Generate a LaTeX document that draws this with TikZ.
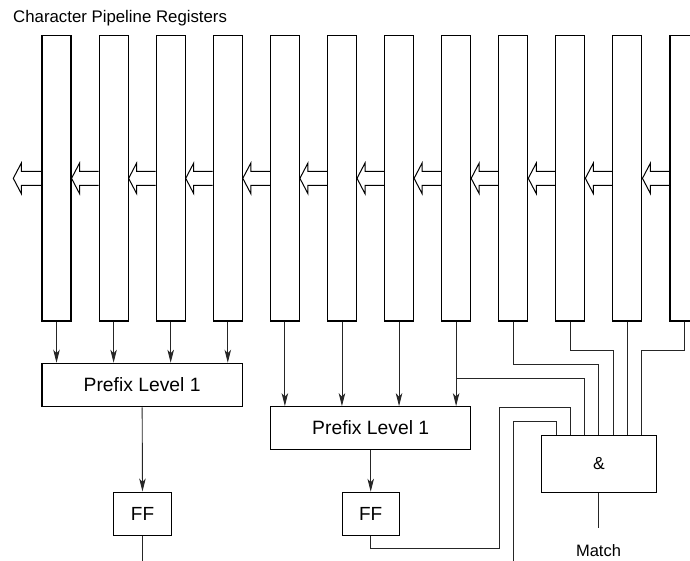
\documentclass[tikz,border=0pt]{standalone}
\usepackage{fontspec}
\setmainfont{Liberation Sans}
\usetikzlibrary{arrows.meta,calc}
\tikzset{
  reg/.style={draw, line width=1.1pt, minimum width=29pt, minimum height=285.3pt, inner sep=0pt, fill=white},
  blk/.style={draw, line width=1.1pt, inner sep=0pt, fill=white},
  wire/.style={line width=0.9pt, black!85},
  arr/.style={wire, -{Stealth[length=13pt, width=6.5pt, inset=3.5pt]}},
  hollow/.style={line width=1pt, black},
}
\begin{document}
\begin{tikzpicture}[x=1pt, y=-1pt]
\useasboundingbox (0,0) rectangle (690,561);
\clip (0,0) rectangle (690,561);
\fill[white] (0,0) rectangle (690,561);

\node[anchor=base west, inner sep=0pt, font=\fontsize{16.8}{19}\selectfont] (title) at (13,22.7) {Character Pipeline Registers};

% registers
\foreach \i in {1,...,12} {
  \node[reg] (r\i) at ({56.5+57.09*(\i-1)},178.35) {};
}

% hollow shift arrows
\foreach \i [evaluate=\i as \j using int(\i+1)] in {1,...,11} {
  \draw[hollow] ($(r\j.west)+(0,-7)$) -- ($(r\i.east)+(8,-7)$) -- ($(r\i.east)+(8,-15.3)$)
    -- (r\i.east) -- ($(r\i.east)+(8,15.3)$) -- ($(r\i.east)+(8,7)$) -- ($(r\j.west)+(0,7)$);
}
\coordinate (out) at (13.3,178.35);
\draw[hollow] ($(r1.west)+(0,-7)$) -- ($(out)+(8,-7)$) -- ($(out)+(8,-15.3)$)
  -- (out) -- ($(out)+(8,15.3)$) -- ($(out)+(8,7)$) -- ($(r1.west)+(0,7)$);

% blocks
\node[blk, minimum width=200.3pt, minimum height=43.4pt, font=\fontsize{19.3}{22}\selectfont] (p1) at (142.15,385) {Prefix Level 1};
\node[blk, minimum width=200pt, minimum height=42.6pt, font=\fontsize{19.3}{22}\selectfont] (p2) at (370.7,428) {Prefix Level 1};
\node[blk, minimum width=57.6pt, minimum height=43.3pt, font=\fontsize{19}{22}\selectfont] (ff1) at (142.5,513.7) {FF};
\node[blk, minimum width=56.7pt, minimum height=43pt, font=\fontsize{19}{22}\selectfont] (ff2) at (370.7,513.8) {FF};
\node[blk, minimum width=114.3pt, minimum height=57pt, font=\fontsize{17.5}{20}\selectfont] (and) at (598.9,463.8) {\&};
\node[inner sep=0pt, font=\fontsize{16.5}{19}\selectfont] (match) at (598.5,550.7) {Match};

% AND inputs
\foreach \k [count=\n] in {-3,...,3} {
  \coordinate (a\n) at ([xshift={\k*14.28pt}]and.north);
}

% register -> prefix
\foreach \i in {1,...,4} { \draw[arr] (r\i.south) -- (r\i.south |- p1.north); }
\foreach \i in {5,...,8} { \draw[arr] (r\i.south) -- (r\i.south |- p2.north); }

\draw[arr] (p1.south) -- (ff1.north);
\draw[arr] (p2.south) -- (ff2.north);

\coordinate (ffo) at (142.5,565);
\draw[wire] (ff1.south) -- (ffo);

% branches into AND
\coordinate (b8) at ($(r8.south)+(0,57.3)$);
\draw[wire] (b8) -| (a3);
\draw[wire] (r9.south) -- ++(0,42.7) -| (a4);
\draw[wire] (r10.south) -- ++(0,28.7) -| (a5);
\draw[wire] (r11.south) -- (r11.south |- and.north);
\draw[wire] (r12.south) -- ++(0,28.7) -| (a7);

\coordinate (q1) at (499.3,548.3);
\coordinate (q2) at (499.3,407.3);
\draw[wire] (ff2.south) |- (q1) -- (q2) -| (a2);

\coordinate (e0) at (513.3,565);
\coordinate (e1) at (513.3,421);
\draw[wire] (e0) -- (e1) -| (a1);

\coordinate (mo) at ($(and.south)+(0,35)$);
\draw[wire] (and.south) -- (mo);
\end{tikzpicture}
\end{document}
